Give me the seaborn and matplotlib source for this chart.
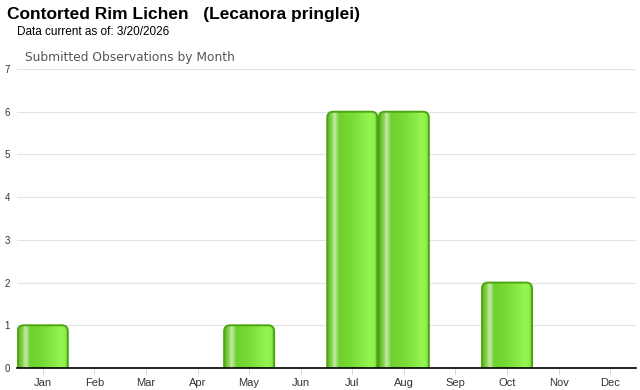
import numpy as np
import pandas as pd
import matplotlib
matplotlib.use("Agg")
import matplotlib.pyplot as plt
import seaborn as sns
from matplotlib.patches import FancyBboxPatch
from matplotlib.colors import LinearSegmentedColormap

months = ["Jan", "Feb", "Mar", "Apr", "May", "Jun", "Jul", "Aug", "Sep", "Oct", "Nov", "Dec"]
counts = [1, 0, 0, 0, 1, 0, 6, 6, 0, 2, 0, 0]
yticks = [0, 1, 2, 3, 4, 5, 6, 7]

title = "Contorted Rim Lichen   (Lecanora pringlei)"
subtitle = "Data current as of: 3/20/2026"
chart_title = "Submitted Observations by Month"

df = pd.DataFrame({"month": months, "count": counts})

sns.set_theme(style="white")
plt.rcParams["font.family"] = ["Liberation Sans", "DejaVu Sans"]

fig = plt.figure(figsize=(6.4, 3.9), dpi=100)
W, H = 640, 390
x0, x1, ytop, ybot = 17, 636, 69, 368
ax = fig.add_axes([x0 / W, (H - ybot) / H, (x1 - x0) / W, (ybot - ytop) / H])

sns.barplot(data=df, x="month", y="count", ax=ax, color="#77d435",
            width=0.97, saturation=1, linewidth=0, zorder=3)

ax.set_ylim(0, 7)
ax.set_xlim(-0.5, 11.5)
ax.set_yticks(yticks)
ax.set_yticklabels([str(t) for t in yticks], fontsize=7, color="#333333")
ax.tick_params(axis="x", labelsize=8, colors="#333333", length=4, width=0.6,
               pad=3, color="#cccccc", bottom=True)
for lbl in ax.get_xticklabels():
    lbl.set_color("#333333")
ax.tick_params(axis="y", length=0, pad=5)
ax.set_xlabel("")
ax.set_ylabel("")
ax.grid(axis="y", color="#e3e3e3", linewidth=0.8, zorder=0)
ax.set_axisbelow(True)
for s in ["top", "right", "left"]:
    ax.spines[s].set_visible(False)
ax.spines["bottom"].set_color("#000000")
ax.spines["bottom"].set_linewidth(1.2)
ax.spines["bottom"].set_zorder(10)

# gradient fill for bars
cmap = LinearSegmentedColormap.from_list("g", [
    (0.0, "#55b81a"), (0.08, "#7fcf4a"), (0.15, "#c4eaa6"), (0.24, "#6fd02e"),
    (0.5, "#78dc36"), (0.85, "#96f551"), (0.93, "#8ef04a"), (1.0, "#5dc020")])
grad = np.linspace(0, 1, 256).reshape(1, -1)
for p in list(ax.patches):
    h = p.get_height()
    if h <= 0:
        p.set_visible(False)
        continue
    bx, bw = p.get_x(), p.get_width()
    p.set_visible(False)
    rpx = 6
    sx = bw / (ax.transData.transform((bx + bw, 0))[0] - ax.transData.transform((bx, 0))[0])
    sy = 1 / (ax.transData.transform((0, 1))[1] - ax.transData.transform((0, 0))[1])
    box = FancyBboxPatch((bx, -1), bw, h + 1,
                         boxstyle=f"round,pad=0,rounding_size={rpx * sx}",
                         mutation_aspect=sy / sx,
                         transform=ax.transData, facecolor="none",
                         edgecolor="#4da512", linewidth=1.4, zorder=5)
    ax.add_patch(box)
    im = ax.imshow(grad, cmap=cmap, aspect="auto", extent=(bx, bx + bw, 0, h),
                   zorder=4, interpolation="bilinear")
    im.set_clip_path(box)
ax.set_xlim(-0.5, 11.5)
ax.set_ylim(0, 7)

fig.text(7 / W, 1 - 15 / H, title, fontsize=12.5, fontweight="bold", va="center", ha="left", color="#000000")
fig.text(17 / W, 1 - 32 / H, subtitle, fontsize=8.5, va="center", ha="left", color="#000000")
fig.text(25 / W, 1 - 58 / H, chart_title, fontsize=8.8, va="center", ha="left",
         color="#555555", family=["DejaVu Sans"])

fig.savefig("out.png", dpi=100)
